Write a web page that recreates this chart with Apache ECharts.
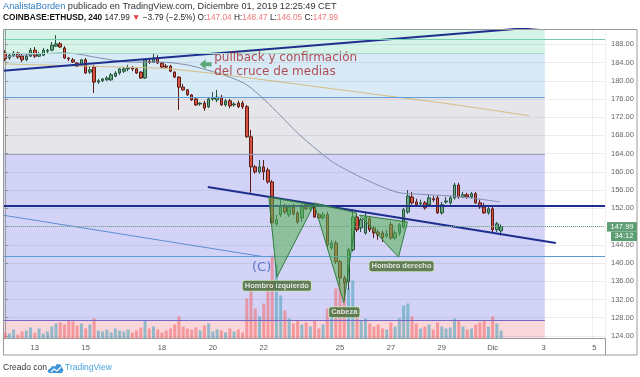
<!DOCTYPE html>
<html><head><meta charset="utf-8">
<script src="https://cdn.jsdelivr.net/npm/echarts@6/dist/echarts.min.js"></script>
<style>html,body{margin:0;padding:0;background:#fff}#c{width:640px;height:377px}</style>
</head><body><div id="c"></div>
<script>
// ---- data (ETHUSD, 4h candles, Coinbase) ----
const opens = [186.1,185.0,185.6,186.1,185.4,184.6,185.4,186.7,185.4,185.6,
186.5,186.7,187.6,188.1,187.2,185.0,184.6,183.9,183.5,184.6,
181.9,183.0,179.7,180.0,180.2,180.2,181.0,181.7,182.1,182.6,
182.8,182.6,181.9,180.6,184.3,184.1,185.0,183.9,183.2,183.2,
181.9,180.8,178.6,178.0,176.9,176.0,174.9,175.1,174.3,176.0,
175.8,176.4,174.7,175.6,174.7,175.1,175.1,174.3,167.7,161.1,
160.0,161.1,160.4,157.8,148.6,150.6,152.3,150.6,152.3,151.0,
149.9,152.8,151.9,152.3,150.6,149.9,150.6,143.3,144.4,140.3,
136.7,135.9,142.9,150.1,147.7,146.6,149.7,147.7,146.8,146.6,
146.0,148.4,145.5,146.6,147.9,151.2,154.5,153.4,153.0,153.2,
152.8,154.1,154.3,151.0,153.4,153.2,154.3,157.1,154.5,155.0,
154.5,155.2,153.2,152.3,151.0,151.9,147.3,147.04];
const closes = [184.8,185.6,186.1,185.2,184.6,185.4,186.7,185.4,185.9,186.7,
186.7,187.8,188.1,187.4,185.0,184.8,184.1,183.2,184.6,181.7,
182.4,179.7,180.0,180.4,180.6,181.3,181.7,182.6,182.6,182.8,
182.6,181.7,180.6,184.6,184.1,185.0,183.9,183.0,183.0,182.1,
180.8,178.6,178.0,176.9,175.8,174.7,175.1,174.0,176.0,176.2,
176.4,174.7,175.6,174.5,174.9,174.3,174.3,167.7,161.1,160.0,
161.1,160.0,157.8,148.8,149.5,152.3,151.2,152.3,150.8,149.0,
152.3,151.9,152.8,150.1,149.9,150.6,144.0,144.4,140.3,136.7,
135.6,142.9,150.1,147.3,149.5,150.1,147.3,146.6,146.2,145.5,
146.4,145.5,146.6,148.4,151.7,154.7,153.2,152.8,153.2,152.1,
154.3,153.9,151.0,152.8,153.6,154.3,157.1,154.5,155.0,154.5,
155.2,153.2,152.3,151.0,151.9,147.3,148.6,147.99];
const lows = [184.3,184.6,185.2,184.8,184.1,184.3,185.2,185.0,185.2,185.4,
186.1,186.5,187.4,187.2,184.8,184.3,183.9,183.0,183.2,181.5,
181.5,177.3,179.3,179.7,180.0,180.0,180.8,181.3,181.7,182.1,
182.1,181.5,180.4,180.4,183.7,183.9,183.7,182.8,182.8,181.9,
180.6,173.6,177.8,176.7,175.6,174.5,174.5,173.4,174.0,175.6,
175.3,174.5,174.3,174.0,174.3,174.0,173.8,167.5,155.4,159.6,
159.6,158.2,157.4,148.4,148.2,150.1,150.8,150.1,150.4,148.6,
149.0,151.7,151.4,149.9,149.7,149.5,143.5,142.9,139.8,135.2,
131.9,134.1,142.5,146.8,146.8,146.2,146.8,145.5,145.1,144.6,
145.5,145.1,145.1,146.0,147.5,150.8,152.8,152.3,152.5,151.7,
152.3,153.4,150.8,150.6,153.0,152.8,153.9,154.1,154.3,154.1,
154.1,153.0,151.9,150.8,150.6,146.6,146.8,146.05];
const highs = [186.7,186.1,186.5,186.3,185.9,185.9,187.2,187.4,186.3,187.2,
187.0,188.5,190.0,188.5,187.6,185.2,185.0,184.1,184.8,185.0,
183.2,183.5,180.4,180.6,181.0,181.7,182.1,182.8,183.0,183.5,
183.2,183.0,182.1,184.8,185.0,186.1,185.6,184.1,183.7,183.5,
182.1,181.0,179.3,178.2,177.1,176.2,175.3,175.6,176.4,177.5,
178.0,176.9,176.0,176.0,175.3,175.6,175.6,174.7,169.2,161.5,
162.6,162.6,160.9,158.2,150.6,153.9,153.0,152.8,153.0,151.4,
153.0,153.4,153.2,153.0,151.0,151.2,151.2,145.1,144.9,140.7,
137.2,143.3,151.7,150.6,149.9,151.2,150.1,148.2,147.3,147.1,
147.3,149.0,147.3,148.8,152.1,156.0,155.6,154.1,153.9,153.6,
155.0,154.7,154.7,153.4,154.5,154.7,157.6,157.6,155.6,155.4,
155.6,155.6,153.9,153.2,152.5,152.5,149.0,148.47];
const volumes = [6,5,9,4,7,8,11,6,10,5, 7,12,15,16,14,18,17,13,15,10,
14,20,8,7,9,6,10,8,7,9, 6,8,11,18,10,12,9,6,8,10,
14,22,12,10,9,11,8,13,15,7, 9,8,6,10,7,9,6,40,53,30,
22,35,55,83,75,43,28,20,15,18, 14,16,12,18,10,14,30,25,50,55,
60,50,58,25,18,20,15,12,14,10, 9,16,12,20,33,35,22,15,10,12,
14,9,16,12,10,11,20,18,12,9, 10,14,16,18,12,22,15,8];
const lastClose = 147.99;

// moving averages (bar index, price)
const ema50 = [[-0.5,185.2],[8.2,185.9],[14.5,186.1],[22.3,185.0],[29.4,184.1],[36.5,184.1],[42.8,183.5],[47.5,182.4],[53.0,180.8],[57.0,179.1],[61.2,175.8],[64.8,172.5],[69.5,168.1],[76.6,162.6],[80.6,160.4],[85.3,158.2],[89.5,156.5],[93.1,155.4],[97.8,155.1],[107.9,154.5],[116.7,153.4]];
const ema200 = [[-0.5,183.7],[27.0,183.0],[38.8,182.6],[57.7,180.6],[74.2,178.6],[88.3,176.9],[104.9,174.9],[123.7,172.3]];

// drawings (bar index, price)
const riseLine = [[-0.5,182.2],[126.1,191.8]];
const necklineDesc = [[47.8,156.7],[129.9,144.4]];
const diagLight = [[-0.5,150.5],[60.8,141.4]];
const navyLevel = 152.5, lightLevel = 141.4, tealLevel = 189.2;
const leftShoulder = [[62.2,154.5],[72.8,152.7],[64.1,136.9]];
const headTri = [[72.8,153.2],[82.9,151.0],[79.9,131.3]];
const rightShoulder = [[83.6,150.5],[94.9,149.0],[92.8,141.3]];
const bandEdges = [192.0,186.1,176.4,163.9,127.5,123.0];
const bandEndIdx = 127.3;

// axes
const priceTicks = [124,128,132,136,140,144,148,152,156,160,164,168,172,176,180,184,188];
const tickDates = ['2019-11-13','2019-11-15','2019-11-18','2019-11-20','2019-11-22','2019-11-25','2019-11-27','2019-11-29','2019-12-01','2019-12-03','2019-12-05'];
const tickLabels = ['13','15','18','20','22','25','27','29','Dic','3','5'];

// ---- build ----
const pad = n => String(n).padStart(2,'0');
const startUTC = Date.UTC(2019,10,11,20);
const nSlots = 142;
const categories = [];
for (let k=0;k<nSlots;k++){const d=new Date(startUTC+k*4*3600e3);categories.push(d.getUTCFullYear()+'-'+pad(d.getUTCMonth()+1)+'-'+pad(d.getUTCDate())+' '+pad(d.getUTCHours()));}
const tickMap = new Map(tickDates.map((d,k)=>[d+' 00',tickLabels[k]]));
const showTick = (i,v)=>tickMap.has(v);

const candleData = opens.map((o,k)=>[o,closes[k],lows[k],highs[k]]);
const UP='#6ba583', DN='#d75442';
const volData = volumes.map((v,k)=>({value:v,itemStyle:{color: closes[k]>=opens[k]?'rgba(92,168,190,0.65)':'rgba(242,110,115,0.6)'}}));

const bandColors = ['#d5f3e6','#d8eaf5','#e5e5ea','#d3d3f7','#f8d6da'];
const bandAreas = bandColors.map((c,k)=>[{xAxis:-0.5,yAxis:bandEdges[k],itemStyle:{color:c}},{xAxis:bandEndIdx,yAxis:bandEdges[k+1]}]);
const bandLineColors = ['#a8d5cc','#5e9ed8','#98a0b4','#7566c9'];
const bandLines = bandLineColors.map((c,k)=>[{coord:[-0.5,bandEdges[k+1]],lineStyle:{color:c,type:'solid',width:1}},{coord:[bandEndIdx,bandEdges[k+1]]}]);

const seg = (data,color,width,z)=>({type:'line',xAxisIndex:1,yAxisIndex:0,data,symbol:'none',silent:true,z,lineStyle:{color,width},clip:true});
const hline = (v,color,width,type)=>[{coord:[-0.5,v],lineStyle:{color,width,type}},{coord:[141.5,v]}];

const tris = [leftShoulder, headTri, rightShoulder];
const boxLabel = {show:true,position:'inside',color:'#fff',fontSize:7.5,fontWeight:'bold',fontFamily:'Liberation Sans',backgroundColor:'#45692f',borderColor:'#cfe3c0',borderWidth:1,borderRadius:2,padding:[1,2,1,2]};
const clear = {color:'rgba(0,0,0,0)'};

const chart = echarts.init(document.getElementById('c'),null,{renderer:'canvas'});
const option = {
  animation:false,
  backgroundColor:'#ffffff',
  grid:{left:3,right:35,top:29,bottom:38.5,containLabel:false},
  xAxis:[
    {type:'category',data:categories,boundaryGap:true,z:1,
     axisLine:{lineStyle:{color:'#9a9a9a'}},
     axisTick:{alignWithLabel:true,interval:showTick,length:3,lineStyle:{color:'#aaa'}},
     axisLabel:{interval:showTick,formatter:v=>tickMap.get(v)||'',color:'#555',fontSize:7.5,margin:5,fontFamily:'Liberation Sans'},
     splitLine:{show:true,interval:showTick,lineStyle:{color:'rgba(90,90,120,0.10)'}}},
    {type:'value',min:-0.5,max:141.5,show:false,gridIndex:0}
  ],
  yAxis:[
    {type:'value',position:'right',min:123.43,max:191.36,scale:true,z:1,
     axisLine:{show:true,lineStyle:{color:'#9a9a9a'}},
     axisTick:{show:true,customValues:priceTicks,length:3,lineStyle:{color:'#999'}},
     axisLabel:{customValues:priceTicks,formatter:v=>Number(v).toFixed(2),color:'#666',fontSize:7.5,margin:6,fontFamily:'Liberation Sans'},
     splitLine:{show:false}},
    {type:'value',min:0,max:309.5,show:false}
  ],
  series:[
    {type:'line',name:'bands',xAxisIndex:1,yAxisIndex:0,data:[],z:0,silent:true,
     markArea:{silent:true,data:bandAreas},
     markLine:{silent:true,symbol:'none',label:{show:false},lineStyle:{color:'rgba(80,80,110,0.10)',type:'solid',width:1},
       data:priceTicks.map(v=>({yAxis:v}))}},
    {type:'line',name:'levels',xAxisIndex:1,yAxisIndex:0,data:[],z:4,silent:true,
     markLine:{silent:true,symbol:'none',label:{show:false},lineStyle:{type:'solid'},
       data:bandLines.concat([
         hline(tealLevel,'#74cdb0',1,'solid'),
         hline(lightLevel,'#5b9bd5',1.2,'solid'),
         hline(navyLevel,'#1f2f8f',2,'solid'),
         hline(lastClose,'#6ba583',1,'dotted')
       ])}},
    {type:'bar',name:'Vol',xAxisIndex:0,yAxisIndex:1,data:volData,barWidth:3,z:2,silent:true},
    {type:'candlestick',name:'ETHUSD',xAxisIndex:0,yAxisIndex:0,data:candleData,barWidth:3,z:3,silent:true,
     itemStyle:{color:UP,color0:DN,borderColor:'#225437',borderColor0:'#5b1a13',borderWidth:1}},
    Object.assign(seg(ema50,'#8090b0',1,4),{smooth:0.3}),
    Object.assign(seg(ema200,'#d4bd82',1,4),{smooth:0.3}),
    seg(diagLight,'#5b8fd5',1,4),
    seg(riseLine,'#1f2f8f',2,4),
    seg(necklineDesc,'#1f2f8f',2,4),
    {type:'custom',xAxisIndex:1,yAxisIndex:0,z:5,silent:true,data:tris.map((t,k)=>[k]),
     renderItem:(params,api)=>{const pts=tris[params.dataIndex].map(p=>api.coord(p));
       return {type:'polygon',shape:{points:pts},style:{fill:'rgba(86,176,86,0.55)',stroke:'#2f7d3a',lineWidth:1}};}},
    {type:'scatter',xAxisIndex:1,yAxisIndex:0,z:6,silent:true,symbolSize:1,itemStyle:clear,
     data:[
       {value:[64.1,135.0],label:Object.assign({formatter:'Hombro izquierdo'},boxLabel)},
       {value:[80.0,129.2],label:Object.assign({formatter:'Cabeza'},boxLabel)},
       {value:[93.5,139.3],label:Object.assign({formatter:'Hombro derecho'},boxLabel)},
       {value:[60.5,139.0],label:{show:true,position:'inside',formatter:'(C)',color:'#3d5cb8',fontSize:13,fontFamily:'DejaVu Sans'}},
       {value:[49.2,183.5],label:{show:true,position:'right',distance:0,formatter:'pullback y confirmación\ndel cruce de medias',color:'#a8262e',fontSize:12,lineHeight:13.5,fontFamily:'DejaVu Sans'}}
     ]},
    {type:'scatter',xAxisIndex:1,yAxisIndex:0,z:6,silent:true,
     symbol:'path://M0,5 L5,0 L5,3 L10,3 L10,7 L5,7 L5,10 Z',symbolSize:[12,10],
     itemStyle:{color:'#3d9a5c'},data:[[47.3,183.6]]}
  ],
  graphic:[
    {id:'h1',type:'text',x:3,y:2,z:10,style:{text:'{a|AnalistaBorden} publicado en TradingView.com, Diciembre 01, 2019 12:25:49 CET',fill:'#333',font:'9.2px "Liberation Sans"',rich:{a:{fill:'#2f7bc0',font:'9.2px "Liberation Sans"'}}}},
    {id:'h2',type:'text',x:3,y:14,z:10,style:{text:'{b|COINBASE:ETHUSD, 240} 147.99 {r|▼} −3.79 (−2.5%) O:{v|147.04} H:{v|148.47} L:{v|146.05} C:{v|147.99}',fill:'#222',font:'8.3px "Liberation Sans"',
      rich:{b:{fill:'#111',font:'bold 8.3px "Liberation Sans"'},r:{fill:'#e53935',font:'8.3px "Liberation Sans"'},v:{fill:'#ee7a7a',font:'8.3px "Liberation Sans"'}}}},
    {id:'l1',type:'text',x:9,y:32,z:1,style:{text:'Ethereum / Dólar, 240, COINBASE',fill:'#555',font:'8px "Liberation Sans"'}},
    {id:'l2',type:'text',x:9,y:42,z:1,style:{text:'Vol (20)',fill:'#999',font:'8px "Liberation Sans"'}},
    {id:'l3',type:'text',x:9,y:52.5,z:1,style:{text:'EMA (50, close)',fill:'#999',font:'8px "Liberation Sans"'}},
    {id:'l4',type:'text',x:9,y:63,z:1,style:{text:'EMA (200, EMA)',fill:'#999',font:'8px "Liberation Sans"'}},
    {id:'fr',type:'rect',z:10,shape:{x:3.5,y:29.5,width:633.5,height:325.5},style:{fill:'none',stroke:'#9a9a9a',lineWidth:1}},
    {id:'vl',type:'line',z:10,shape:{x1:605.5,y1:338,x2:605.5,y2:355},style:{stroke:'#9a9a9a',lineWidth:1}},
    {id:'f1',type:'text',x:3,y:363,z:10,style:{text:'Creado con',fill:'#333',font:'8.5px "Liberation Sans"'}},
    {id:'logo',type:'polygon',z:10,x:47,y:362,shape:{points:[[2,11],[0.5,9],[2,7],[3.5,6.5],[5,4],[8,4.5],[10,2],[13.5,2.5],[15,5.5],[16.5,8],[15,11]]},style:{fill:'#3d94d6'}},
    {id:'logo2',type:'polyline',z:11,x:47,y:362,shape:{points:[[4,10],[7,7],[10,9],[14,5]]},style:{stroke:'#ffffff',lineWidth:1.2,fill:'none'}},
    {id:'f2',type:'text',x:65,y:363,z:10,style:{text:'TradingView',fill:'#4aa3df',font:'8.5px "Liberation Sans"'}}
  ]
};
chart.setOption(option);
const py = chart.convertToPixel({yAxisIndex:0}, lastClose);
chart.setOption({graphic:[
  {id:'pt1',type:'rect',z:20,shape:{x:607,y:py-4.5,width:30,height:9.5},style:{fill:'#5d9e74'}},
  {id:'pt2',type:'text',z:21,x:622,y:py,style:{text:lastClose.toFixed(2),fill:'#fff',font:'7.5px "Liberation Sans"',align:'center',verticalAlign:'middle'}},
  {id:'pt3',type:'rect',z:20,shape:{x:611,y:py+5,width:26,height:9.5},style:{fill:'#5d9e74'}},
  {id:'pt4',type:'text',z:21,x:624,y:py+9.75,style:{text:'34:12',fill:'#fff',font:'7.5px "Liberation Sans"',align:'center',verticalAlign:'middle'}}
]});
</script></body></html>
